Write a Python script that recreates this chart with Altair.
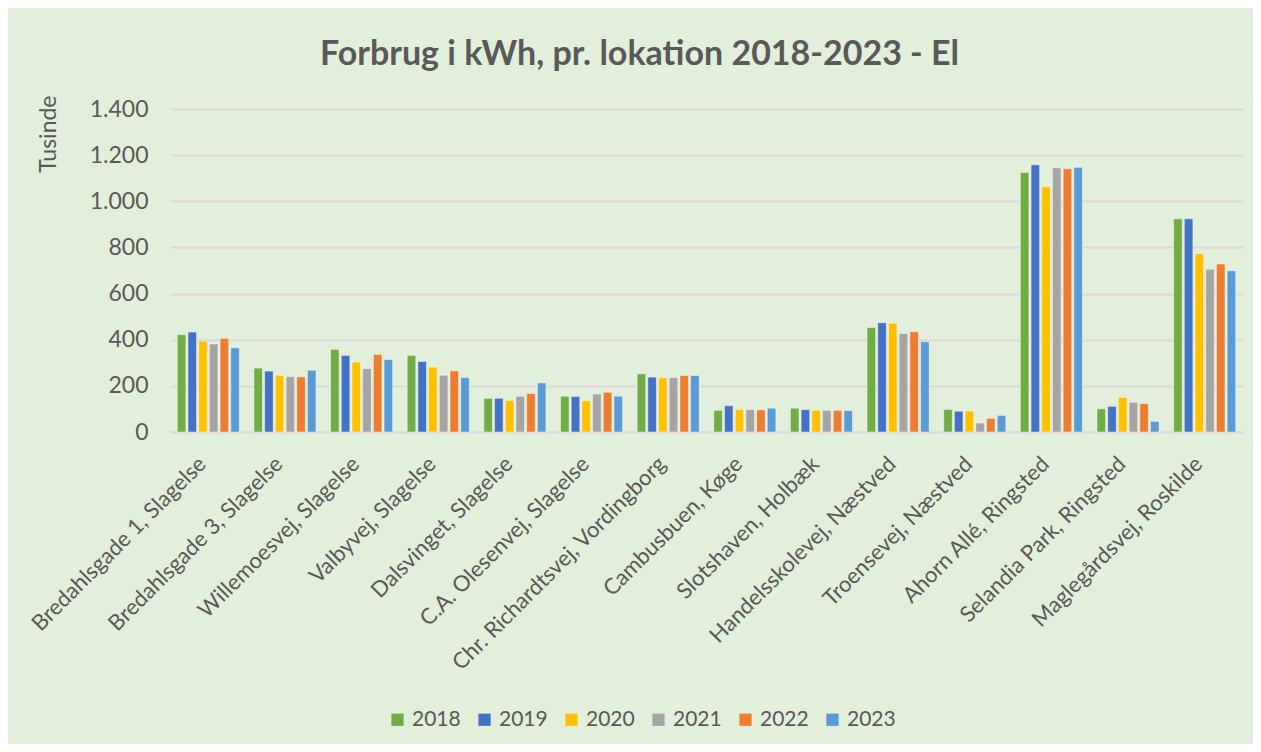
import altair as alt
import pandas as pd

locations = [
    "Bredahlsgade 1, Slagelse",
    "Bredahlsgade 3, Slagelse",
    "Willemoesvej, Slagelse",
    "Valbyvej, Slagelse",
    "Dalsvinget, Slagelse",
    "C.A. Olesenvej, Slagelse",
    "Chr. Richardtsvej, Vordingborg",
    "Cambusbuen, Køge",
    "Slotshaven, Holbæk",
    "Handelsskolevej, Næstved",
    "Troensevej, Næstved",
    "Ahorn Allé, Ringsted",
    "Selandia Park, Ringsted",
    "Maglegårdsvej, Roskilde",
]
years = ["2018", "2019", "2020", "2021", "2022", "2023"]

v2018 = [422, 277, 358, 332, 146, 155, 252, 94, 103, 453, 98, 1125, 101, 924]
v2019 = [433, 264, 332, 306, 146, 154, 238, 114, 97, 474, 90, 1158, 111, 924]
v2020 = [393, 246, 303, 281, 136, 135, 235, 97, 94, 471, 91, 1063, 150, 773]
v2021 = [381, 240, 275, 246, 155, 165, 236, 97, 94, 427, 39, 1145, 129, 705]
v2022 = [406, 239, 336, 265, 167, 172, 245, 96, 94, 435, 59, 1141, 123, 728]
v2023 = [365, 268, 314, 236, 213, 155, 245, 103, 93, 391, 72, 1147, 46, 699]

colors = ["#70AD47", "#4472C4", "#FFC000", "#A5A5A5", "#ED7D31", "#5B9BD5"]

rows = []
for yr, vals in zip(years, [v2018, v2019, v2020, v2021, v2022, v2023]):
    for loc, v in zip(locations, vals):
        rows.append({"lokation": loc, "år": yr, "værdi": v})
df = pd.DataFrame(rows)

FONT = "Lato"
TXT = "#595959"
GRID = "#D9D9D9"

chart = alt.Chart(df).mark_bar(
    stroke="white", strokeOpacity=0.45, strokeWidth=1
).encode(
    x=alt.X(
        "lokation:N",
        sort=locations,
        scale=alt.Scale(paddingInner=0.19, paddingOuter=0.095),
        axis=alt.Axis(
            title=None,
            labelAngle=-45,
            labelAlign="right",
            labelBaseline="top",
            labelFontSize=22,
            labelColor=TXT,
            labelFont=FONT,
            labelLimit=500,
            labelPadding=21,
            labelOffset=-13,
            ticks=False,
            domain=True,
            domainColor=GRID,
            domainWidth=2,
            grid=False,
        ),
    ),
    xOffset=alt.XOffset(
        "år:N", sort=years, scale=alt.Scale(paddingInner=0.2, paddingOuter=0.0)
    ),
    y=alt.Y(
        "værdi:Q",
        scale=alt.Scale(domain=[0, 1400]),
        axis=alt.Axis(
            title="Tusinde",
            titleFont=FONT,
            titleFontSize=23,
            titleFontWeight="normal",
            titleColor=TXT,
            titleAngle=-90,
            titleX=-122,
            titleY=-14,
            titleAlign="right",
            titleBaseline="middle",
            values=[0, 200, 400, 600, 800, 1000, 1200, 1400],
            labelExpr="replace(format(datum.value, ','), ',', '.')",
            labelFontSize=23,
            labelColor=TXT,
            labelFont=FONT,
            labelPadding=22,
            ticks=False,
            domain=False,
            grid=True,
            gridColor=GRID,
            gridWidth=2,
        ),
    ),
    color=alt.Color(
        "år:N",
        sort=years,
        scale=alt.Scale(domain=years, range=colors),
        legend=alt.Legend(
            title=None,
            orient="none",
            direction="horizontal",
            legendX=217,
            legendY=600,
            symbolType="square",
            symbolSize=150,
            symbolStrokeWidth=0,
            labelFontSize=21,
            labelFont=FONT,
            labelColor=TXT,
            columnPadding=13,
            symbolOffset=0,
        ),
    ),
).properties(
    width=1073,
    height=323,
    title=alt.TitleParams(
        "Forbrug i kWh, pr. lokation 2018-2023 - El",
        font=FONT,
        fontSize=34,
        fontWeight="bold",
        color=TXT,
        anchor="middle",
        dx=-67,
        offset=23,
    ),
    background="#E2EFDA",
    padding={"left": 162, "top": 101, "right": 10, "bottom": 312},
    autosize=alt.AutoSizeParams(type="none"),
).configure_view(stroke=None)

chart.save("out.html", embed_options={"renderer": "svg", "actions": False})
